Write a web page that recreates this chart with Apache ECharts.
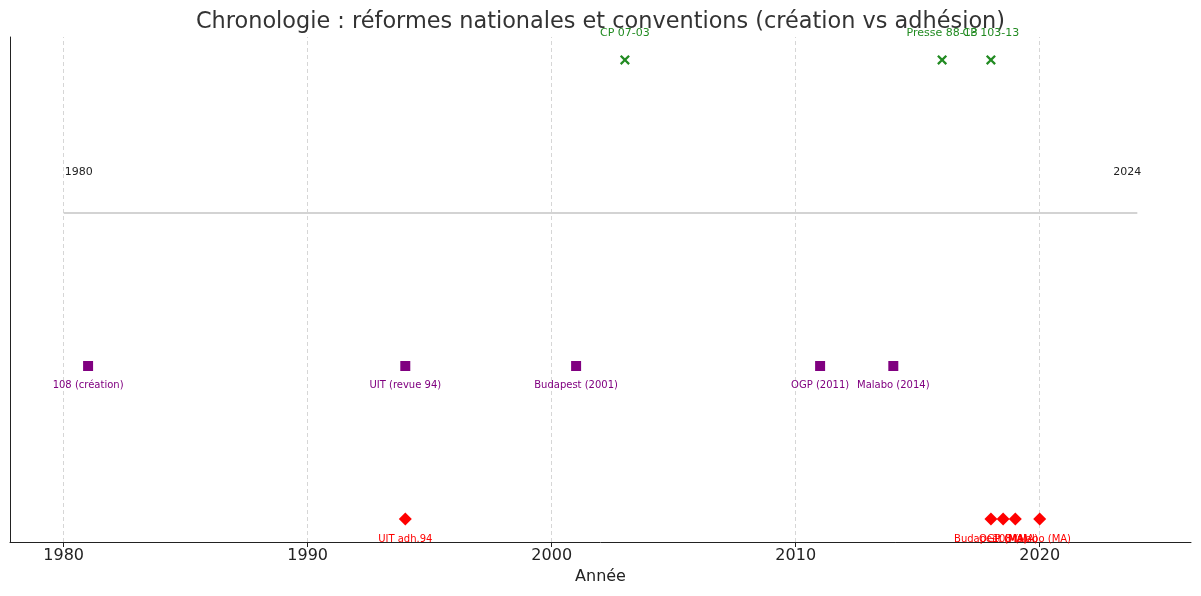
<!DOCTYPE html>
<html><head><meta charset="utf-8">
<script src="https://cdn.jsdelivr.net/npm/echarts@6/dist/echarts.min.js"></script>
<style>html,body{margin:0;padding:0;background:#fff}#c{width:1201px;height:596px}</style>
</head><body><div id="c"></div>
<script>
// ---- data ----
const titleText = 'Chronologie : réformes nationales et conventions (création vs adhésion)';
const xAxisName = 'Année';
const xTicks = [1980, 1990, 2000, 2010, 2020];
const timelineYears = [1980, 2024];
const levelReformes = 3, levelTimeline = 2, levelCreation = 1, levelAdhesion = 0;

const reformYears = [2003, 2016, 2018];
const reformLabels = ['CP 07-03', 'Presse 88-13', 'CP 103-13'];

const creationYears = [1981, 1994, 2001, 2011, 2014];
const creationLabels = ['108 (création)', 'UIT (revue 94)', 'Budapest (2001)', 'OGP (2011)', 'Malabo (2014)'];

const adhesionYears = [1994, 2018, 2018.5, 2019, 2020];
const adhesionLabels = ['UIT adh.94', 'Budapest (MA)', 'OGP (MA)', '108 (MA)', 'Malabo (MA)'];

// ---- chart ----
const FONT = 'DejaVu Sans';
const xPath = 'path://M0,1.6 L1.6,0 L5,3.4 L8.4,0 L10,1.6 L6.6,5 L10,8.4 L8.4,10 L5,6.6 L1.6,10 L0,8.4 L3.4,5 Z';
const pts = (years, level, labels) => years.map((y, i) => ({value: [y, level], name: labels ? labels[i] : ''}));

const chart = echarts.init(document.getElementById('c'), null, {renderer: 'canvas'});
chart.setOption({
  animation: false,
  backgroundColor: '#fff',
  title: {text: titleText, left: 'center', top: 6,
    textStyle: {fontFamily: FONT, fontSize: 22.4, fontWeight: 'normal', color: '#333'}},
  grid: {left: 10, right: 10, top: 37, bottom: 54, containLabel: false},
  xAxis: {type: 'value', min: 1977.8, max: 2026.2,
    name: xAxisName, nameLocation: 'middle', nameGap: 27,
    nameTextStyle: {fontFamily: FONT, fontSize: 16, color: '#222'},
    axisLine: {onZero: false, lineStyle: {color: '#222', width: 1}},
    axisTick: {customValues: xTicks, length: 5, lineStyle: {color: '#222'}},
    axisLabel: {customValues: xTicks, margin: 6, fontFamily: FONT, fontSize: 16, color: '#222',
      formatter: v => String(v)},
    splitLine: {show: false}},
  yAxis: {type: 'value', min: -0.15, max: 3.15,
    axisLine: {show: true, onZero: false, lineStyle: {color: '#222', width: 1}},
    axisTick: {show: false}, axisLabel: {show: false}, splitLine: {show: false}},
  series: [
    {type: 'line', data: [], silent: true, z: 0, zlevel: 0,
      markLine: {silent: true, symbol: 'none', label: {show: false}, z: 0,
        lineStyle: {type: [4, 3], color: '#cccccc', width: 0.8},
        data: xTicks.map(v => ({xAxis: v}))}},
    {type: 'line', symbol: 'none', showSymbol: true, symbolSize: 0.1, z: 1,
      lineStyle: {color: '#d3d3d3', width: 2},
      data: timelineYears.map((y, i) => ({value: [y, levelTimeline],
        symbol: 'circle', symbolSize: 0.1,
        label: {show: true, formatter: String(y), position: 'inside',
          align: i === 0 ? 'left' : 'right', offset: [i === 0 ? 1 : 4, -41],
          fontFamily: FONT, fontSize: 11, color: '#222'}}))},
    {type: 'scatter', symbol: xPath, symbolSize: 10, z: 3, zlevel: 1,
      itemStyle: {color: '#228B22', opacity: 1},
      label: {show: true, formatter: p => p.name, position: 'inside', offset: [0, -27],
        fontFamily: FONT, fontSize: 11, color: '#228B22'},
      data: pts(reformYears, levelReformes, reformLabels)},
    {type: 'scatter', symbol: 'rect', symbolSize: 10, z: 3, zlevel: 1,
      itemStyle: {color: '#800080', opacity: 1},
      label: {show: true, formatter: p => p.name, position: 'inside', offset: [0, 19],
        fontFamily: FONT, fontSize: 10, color: '#800080'},
      data: pts(creationYears, levelCreation, creationLabels)},
    {type: 'scatter', symbol: 'diamond', symbolSize: 13, z: 3, zlevel: 1,
      itemStyle: {color: '#FF0000', opacity: 1},
      label: {show: true, formatter: p => p.name, position: 'inside', offset: [0, 20],
        fontFamily: FONT, fontSize: 10, color: '#FF0000'},
      data: pts(adhesionYears, levelAdhesion, adhesionLabels)}
  ]
});
</script></body></html>
